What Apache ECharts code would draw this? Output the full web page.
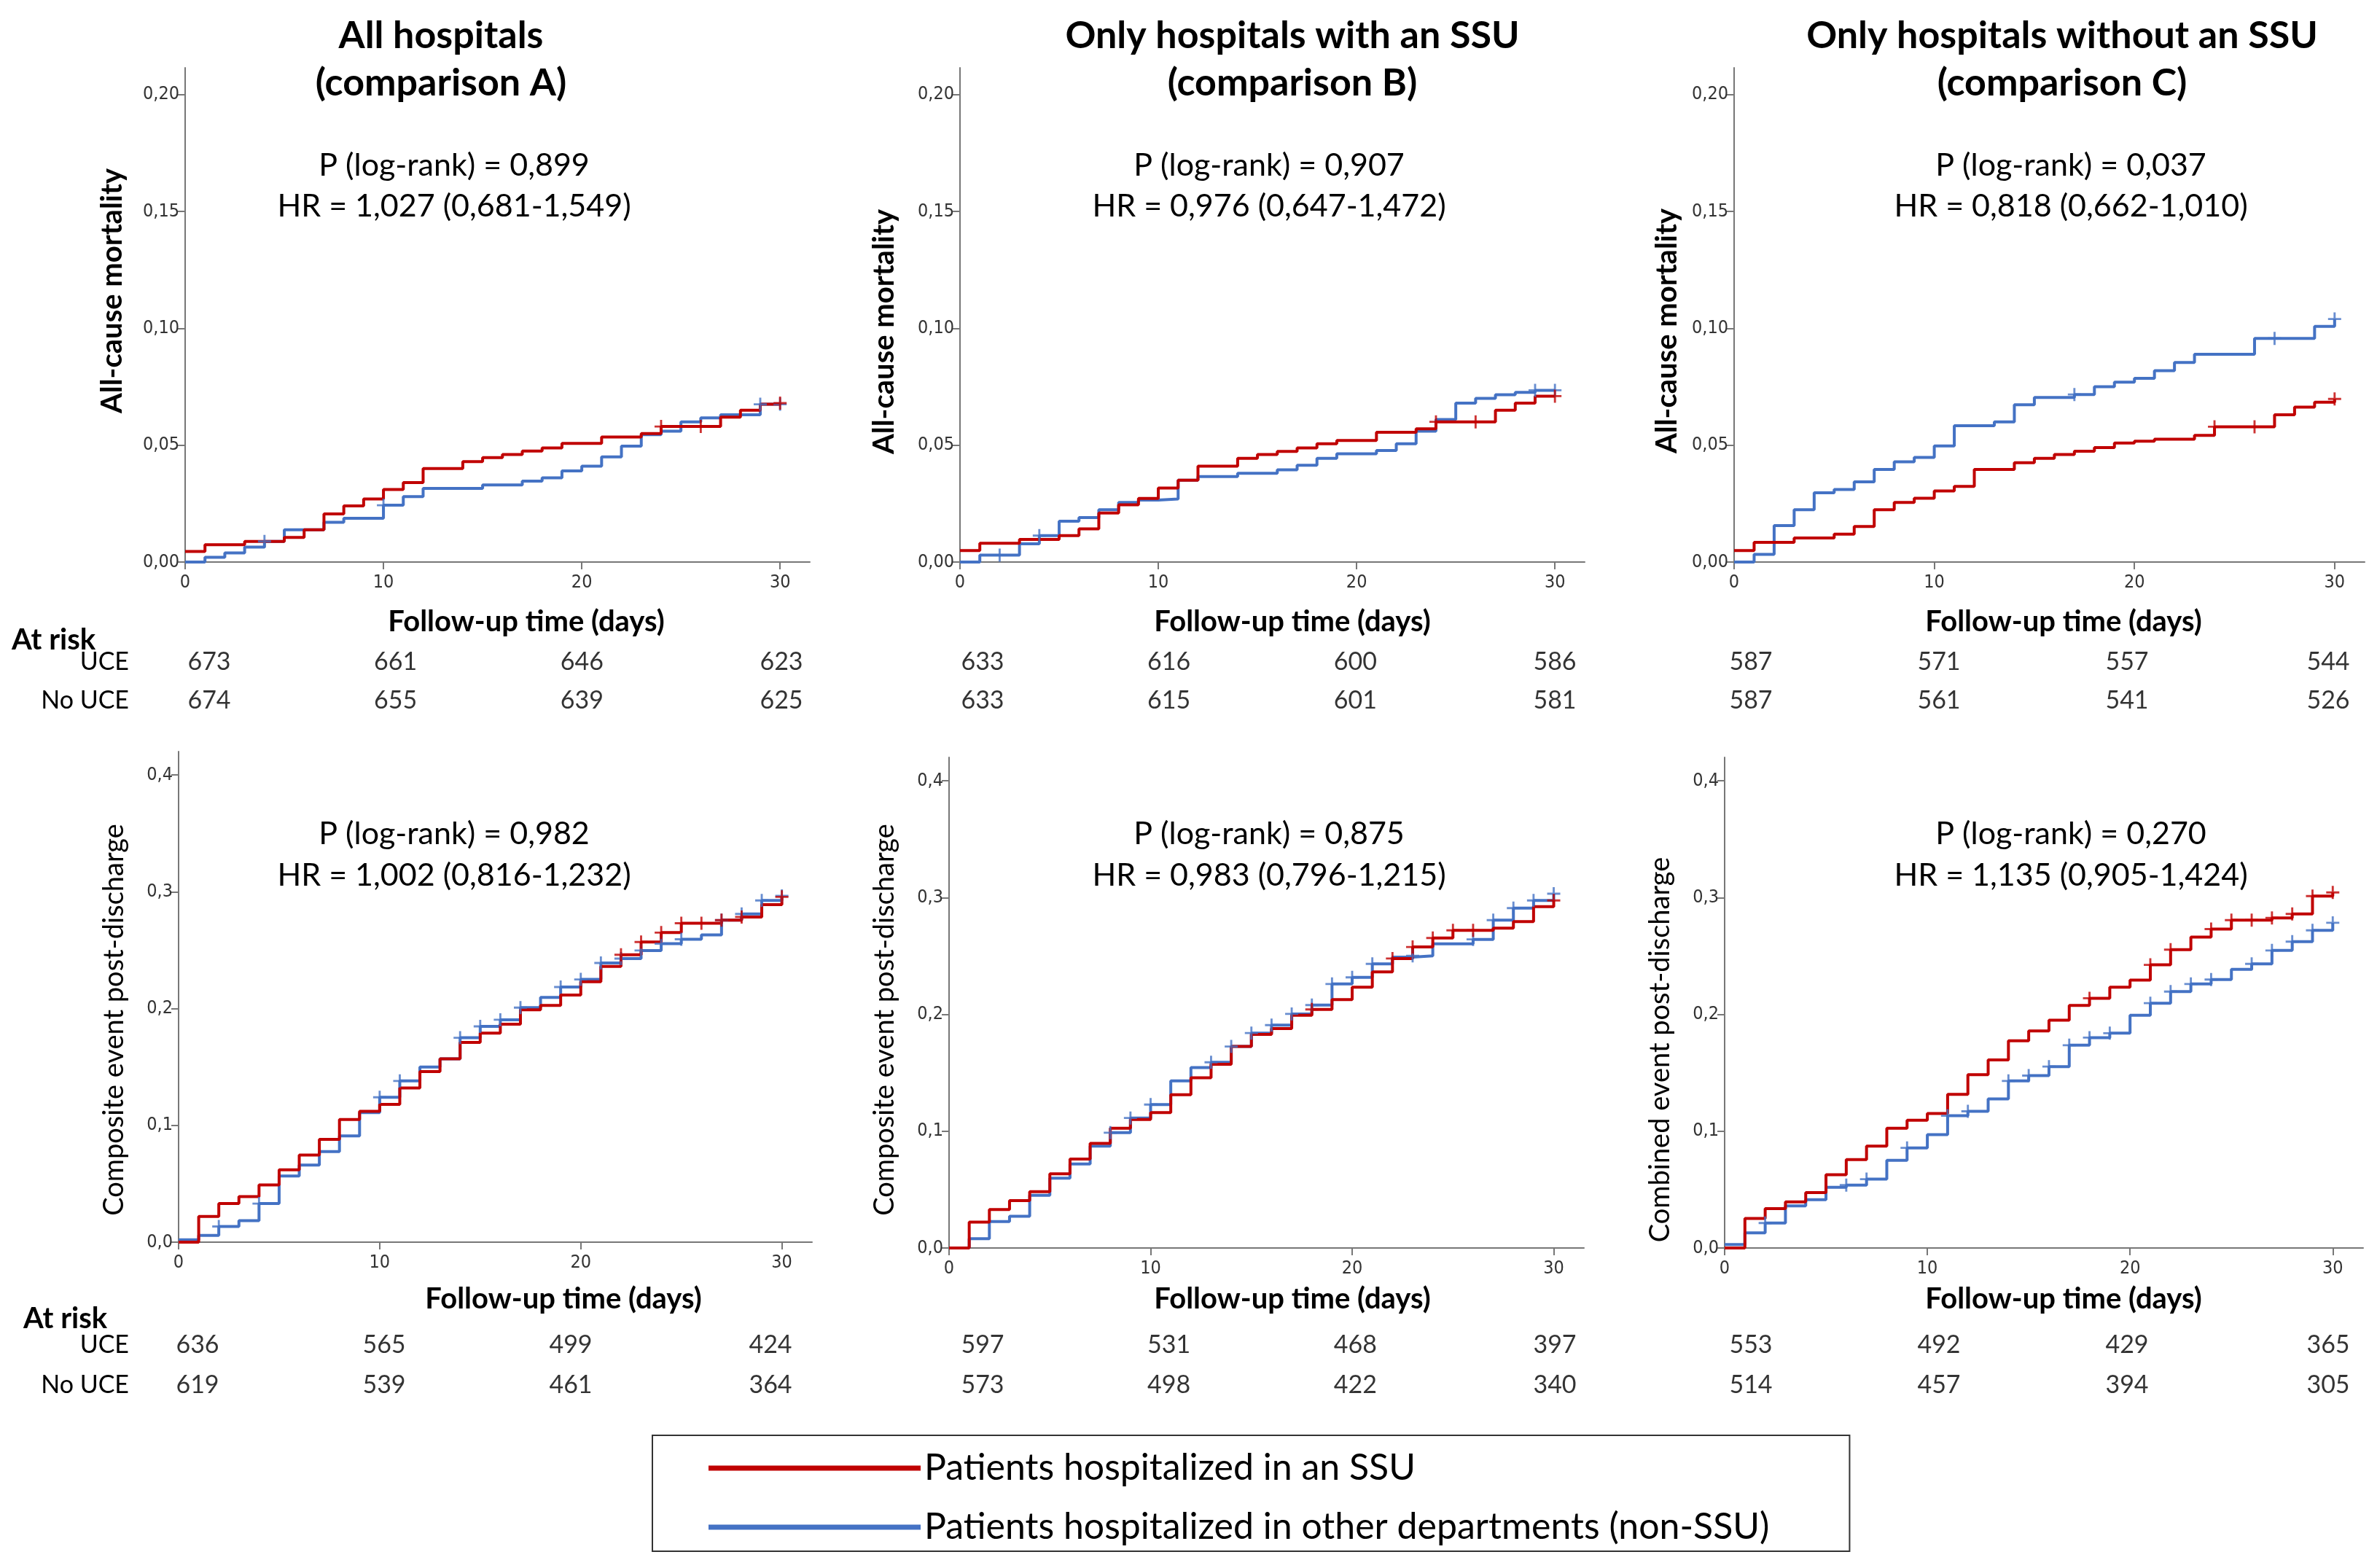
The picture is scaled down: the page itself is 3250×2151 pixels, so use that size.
<!DOCTYPE html>
<html><head><meta charset="utf-8">
<script src="https://cdn.jsdelivr.net/npm/echarts@6/dist/echarts.min.js"></script>
<style>html,body{margin:0;padding:0;background:#fff}#c{width:3250px;height:2151px}</style>
</head><body><div id="c"></div>
<script>
// ---------------- DATA ----------------
const dayIndex = [0,1,2,3,4,5,6,7,8,9,10,11,12,13,14,15,16,17,18,19,20,21,22,23,24,25,26,27,28,29,30];
const riskDays = [0,10,20,30];
const riskRows = ['UCE','No UCE'];
const yTicksMort = [0,0.05,0.10,0.15,0.20];
const yTicksComp = [0,0.1,0.2,0.3,0.4];
const xTicks = [0,10,20,30];
const nameSSU = 'Patients hospitalized in an SSU';
const nameNon = 'Patients hospitalized in other departments (non-SSU)';

// All-cause mortality (cumulative), value held on [day, day+1)
const mortA_SSU = [0.0045,0.0074,0.0074,0.0088,0.0088,0.0105,0.0138,0.0206,0.0240,0.0270,0.0310,0.0340,0.0400,0.0400,0.0430,0.0447,0.0460,0.0475,0.0488,0.0508,0.0508,0.0535,0.0535,0.0550,0.0580,0.0580,0.0580,0.0620,0.0650,0.0675,0.0680];
const mortA_Non = [0,0.0020,0.0039,0.0064,0.0088,0.0138,0.0138,0.0170,0.0187,0.0187,0.0243,0.0280,0.0315,0.0315,0.0315,0.0330,0.0330,0.0346,0.0360,0.0390,0.0410,0.0450,0.0496,0.0545,0.0560,0.0600,0.0617,0.0630,0.0630,0.0675,0.0675];
const mortB_SSU = [0.0049,0.0080,0.0080,0.0097,0.0097,0.0113,0.0142,0.0210,0.0245,0.0272,0.0317,0.0350,0.0410,0.0410,0.0444,0.0460,0.0473,0.0488,0.0506,0.0520,0.0520,0.0555,0.0555,0.0570,0.0600,0.0600,0.0600,0.0650,0.0680,0.0710,0.0710];
const mortB_Non = [0,0.0030,0.0030,0.0078,0.0113,0.0175,0.0190,0.0224,0.0255,0.0265,0.0270,0.0350,0.0366,0.0366,0.0380,0.0380,0.0395,0.0414,0.0444,0.0463,0.0463,0.0477,0.0506,0.0560,0.0610,0.0680,0.0700,0.0716,0.0726,0.0735,0.0735];
const mortC_SSU = [0.0049,0.0084,0.0084,0.0103,0.0103,0.0119,0.0152,0.0224,0.0255,0.0273,0.0304,0.0324,0.0396,0.0396,0.0425,0.0444,0.0460,0.0474,0.0490,0.0509,0.0517,0.0526,0.0526,0.0542,0.0579,0.0579,0.0579,0.0630,0.0663,0.0684,0.0698];
const mortC_Non = [0,0.0033,0.0156,0.0224,0.0296,0.0310,0.0343,0.0396,0.0429,0.0448,0.0497,0.0583,0.0583,0.0600,0.0673,0.0704,0.0704,0.0717,0.0750,0.0770,0.0786,0.0819,0.0854,0.0889,0.0889,0.0889,0.0957,0.0957,0.0957,0.1008,0.1040];

// Composite / combined event post-discharge
const compA_SSU = [0,0.022,0.033,0.039,0.049,0.062,0.0746,0.088,0.105,0.112,0.118,0.132,0.146,0.157,0.171,0.179,0.1866,0.199,0.2027,0.2115,0.223,0.236,0.246,0.257,0.265,0.273,0.273,0.2757,0.2784,0.289,0.2956];
const compA_Non = [0.002,0.0057,0.0134,0.0184,0.033,0.0566,0.066,0.0776,0.091,0.111,0.124,0.138,0.150,0.157,0.175,0.1847,0.1904,0.2008,0.2096,0.2184,0.2249,0.239,0.2428,0.2497,0.2555,0.2593,0.263,0.2757,0.281,0.2925,0.2964];
const compB_SSU = [0,0.0222,0.0329,0.0405,0.0482,0.0635,0.0761,0.0895,0.1025,0.110,0.1159,0.1312,0.1457,0.1572,0.1725,0.1828,0.1878,0.1992,0.2042,0.2126,0.2233,0.2363,0.2478,0.2577,0.2654,0.2719,0.2719,0.2738,0.2795,0.2922,0.2975];
const compB_Non = [0,0.008,0.0226,0.0272,0.0451,0.0597,0.0719,0.0872,0.0987,0.1113,0.1228,0.143,0.1545,0.159,0.1725,0.184,0.1908,0.2004,0.208,0.226,0.2317,0.2432,0.249,0.2501,0.2604,0.2604,0.2642,0.2807,0.291,0.2975,0.3033];
const compC_SSU = [0,0.0252,0.0337,0.0394,0.0474,0.0627,0.0757,0.0872,0.1025,0.1094,0.1151,0.1315,0.1484,0.161,0.1774,0.1858,0.195,0.2077,0.2138,0.2233,0.2294,0.2424,0.2554,0.2662,0.273,0.2807,0.2807,0.2826,0.286,0.3013,0.3044];
const compC_Non = [0.003,0.013,0.0214,0.036,0.0413,0.052,0.0539,0.0589,0.075,0.0857,0.0971,0.1132,0.117,0.1277,0.143,0.1476,0.1553,0.1736,0.1801,0.1839,0.1992,0.2096,0.2195,0.226,0.2298,0.2386,0.2432,0.2547,0.2623,0.2719,0.2784];

// Censoring marks (days)
const censMortA_SSU = [24,26,30];
const censMortA_Non = [4,10,29,30];
const censMortB_SSU = [24,26,30];
const censMortB_Non = [2,4,29,30];
const censMortC_SSU = [24,26,30];
const censMortC_Non = [17,27,30];
const censCompA_SSU = [22,23,24,25,26,27,28,30];
const censCompA_Non = [2,4,10,11,14,15,16,17,19,20,21,22,23,24,25,27,28,29,30];
const censCompB_SSU = [18,22,23,24,25,26,30];
const censCompB_Non = [8,9,10,13,14,15,16,17,18,19,20,21,23,26,27,28,29,30];
const censCompC_SSU = [18,21,22,24,25,26,27,28,29,30];
const censCompC_Non = [2,6,7,9,11,12,14,15,16,17,18,19,21,22,23,24,26,27,28,29,30];

// Numbers at risk at days 0,10,20,30
const riskMortA_UCE = [673,661,646,623], riskMortA_No = [674,655,639,625];
const riskMortB_UCE = [633,616,600,586], riskMortB_No = [633,615,601,581];
const riskMortC_UCE = [587,571,557,544], riskMortC_No = [587,561,541,526];
const riskCompA_UCE = [636,565,499,424], riskCompA_No = [619,539,461,364];
const riskCompB_UCE = [597,531,468,397], riskCompB_No = [573,498,422,340];
const riskCompC_UCE = [553,492,429,365], riskCompC_No = [514,457,394,305];

const titles = [['All hospitals','(comparison A)'],['Only hospitals with an SSU','(comparison B)'],['Only hospitals without an SSU','(comparison C)']];
const statsMort = [['P (log-rank) = 0,899','HR = 1,027 (0,681-1,549)'],['P (log-rank) = 0,907','HR = 0,976 (0,647-1,472)'],['P (log-rank) = 0,037','HR = 0,818 (0,662-1,010)']];
const statsComp = [['P (log-rank) = 0,982','HR = 1,002 (0,816-1,232)'],['P (log-rank) = 0,875','HR = 0,983 (0,796-1,215)'],['P (log-rank) = 0,270','HR = 1,135 (0,905-1,424)']];
const yNamesMort = ['All-cause mortality','All-cause mortality','All-cause mortality'];
const yNamesComp = ['Composite event post-discharge','Composite event post-discharge','Combined event post-discharge'];
const xName = 'Follow-up time (days)';

// ---------------- LAYOUT / STYLE ----------------
const RED = '#C00000', BLUE = '#4472C4';
const FONT = "Lato, 'Open Sans', sans-serif";
const TFONT = "'Liberation Sans Narrow', 'DejaVu Sans Condensed', sans-serif";
const AX = '#777';

const panels = [
  {grid:{left:254,top:93,width:857,height:678}, ymax:0.2115, ticks:yTicksMort, dec:2, ssu:mortA_SSU, non:mortA_Non, cs:censMortA_SSU, cn:censMortA_Non, ru:riskMortA_UCE, rn:riskMortA_No,
   tgrid:{left:287,top:882,width:785,height:106}, rowLabels:true, rowMargin:110},
  {grid:{left:1317,top:93,width:857,height:678}, ymax:0.2115, ticks:yTicksMort, dec:2, ssu:mortB_SSU, non:mortB_Non, cs:censMortB_SSU, cn:censMortB_Non, ru:riskMortB_UCE, rn:riskMortB_No,
   tgrid:{left:1348,top:882,width:785,height:106}, rowLabels:false},
  {grid:{left:2379,top:93,width:865,height:678}, ymax:0.2115, ticks:yTicksMort, dec:2, ssu:mortC_SSU, non:mortC_Non, cs:censMortC_SSU, cn:censMortC_Non, ru:riskMortC_UCE, rn:riskMortC_No,
   tgrid:{left:2402,top:882,width:792,height:106}, rowLabels:false},
  {grid:{left:245,top:1031,width:869,height:673}, ymax:0.42, ticks:yTicksComp, dec:1, ssu:compA_SSU, non:compA_Non, cs:censCompA_SSU, cn:censCompA_Non, ru:riskCompA_UCE, rn:riskCompA_No,
   tgrid:{left:271,top:1818,width:786,height:110}, rowLabels:true, rowMargin:94},
  {grid:{left:1302,top:1039,width:871,height:673}, ymax:0.42, ticks:yTicksComp, dec:1, ssu:compB_SSU, non:compB_Non, cs:censCompB_SSU, cn:censCompB_Non, ru:riskCompB_UCE, rn:riskCompB_No,
   tgrid:{left:1348,top:1818,width:785,height:110}, rowLabels:false},
  {grid:{left:2366,top:1039,width:876,height:673}, ymax:0.42, ticks:yTicksComp, dec:1, ssu:compC_SSU, non:compC_Non, cs:censCompC_SSU, cn:censCompC_Non, ru:riskCompC_UCE, rn:riskCompC_No,
   tgrid:{left:2402,top:1818,width:792,height:110}, rowLabels:false}
];
const colOffsets = [0,-6,-12,0];
const plusPath = 'path://M42,0h16v42h42v16h-42v42h-16v-42h-42v-16h42z';

const grids = [], xAxes = [], yAxes = [], series = [];
panels.forEach((p, i) => {
  grids.push(p.grid);
  xAxes.push({gridIndex:i, type:'value', min:0, max:31.5,
    axisLine:{show:true, onZero:false, lineStyle:{color:AX, width:2}},
    axisTick:{show:true, customValues:xTicks, length:10, lineStyle:{color:AX, width:2}},
    axisLabel:{customValues:xTicks, margin:16, fontSize:25, color:'#333', fontFamily:TFONT},
    splitLine:{show:false}});
  yAxes.push({gridIndex:i, type:'value', min:0, max:p.ymax,
    axisLine:{show:true, lineStyle:{color:AX, width:2}},
    axisTick:{show:true, customValues:p.ticks, length:10, lineStyle:{color:AX, width:2}},
    axisLabel:{customValues:p.ticks, margin:8, fontSize:25, color:'#333', fontFamily:TFONT,
      formatter: v => v.toFixed(p.dec).replace('.', ',')},
    splitLine:{show:false}});
  const mk = (arr) => dayIndex.map((d, k) => [d, arr[k]]);
  series.push({name:nameNon, type:'line', step:'end', xAxisIndex:i, yAxisIndex:i, data:mk(p.non),
    showSymbol:false, lineStyle:{color:BLUE, width:4}, itemStyle:{color:BLUE}, z:2});
  series.push({name:nameSSU, type:'line', step:'end', xAxisIndex:i, yAxisIndex:i, data:mk(p.ssu),
    showSymbol:false, lineStyle:{color:RED, width:4}, itemStyle:{color:RED}, z:3});
  series.push({name:'censored non-SSU', type:'scatter', xAxisIndex:i, yAxisIndex:i,
    data:p.cn.map(d => [d, p.non[d]]), symbol:plusPath, symbolSize:18, itemStyle:{color:BLUE}, z:4});
  series.push({name:'censored SSU', type:'scatter', xAxisIndex:i, yAxisIndex:i,
    data:p.cs.map(d => [d, p.ssu[d]]), symbol:plusPath, symbolSize:18, itemStyle:{color:RED}, z:5});
});
// at-risk tables
panels.forEach((p, i) => {
  const gi = 6 + i;
  grids.push(p.tgrid);
  xAxes.push({gridIndex:gi, type:'value', min:0, max:30, show:false});
  yAxes.push({gridIndex:gi, type:'category', data:riskRows, inverse:true,
    axisLine:{show:false}, axisTick:{show:false}, splitLine:{show:false},
    axisLabel:{show:p.rowLabels, margin:p.rowMargin || 0, fontSize:34, color:'#000', fontFamily:FONT}});
  const items = [];
  [p.ru, p.rn].forEach((row, r) => row.forEach((n, k) => items.push({
    value:[riskDays[k], r], n:n, label:{offset:[colOffsets[k], 0]}})));
  series.push({name:'at risk', type:'scatter', xAxisIndex:gi, yAxisIndex:gi, data:items,
    symbolSize:2, itemStyle:{color:'rgba(0,0,0,0)'}, silent:true, z:10,
    label:{show:true, position:'inside', fontSize:34, color:'#000', fontFamily:FONT, formatter: q => String(q.data.n)}});
});

// text graphics
const g = [];
const txt = (x, y, text, size, weight, rot) => g.push({type:'text', x:x, y:y, rotation:rot || 0,
  style:{text:text, fontSize:size, fontWeight:weight, fontFamily:FONT, fill:'#000', align:'center', verticalAlign:'middle'}});
const titleX = [605, 1773, 2829];
const statX = [623, 1741, 2841];
titles.forEach((t, i) => { txt(titleX[i], 49, t[0], 52, 'bold'); txt(titleX[i], 114, t[1], 52, 'bold'); });
statsMort.forEach((s, i) => { txt(statX[i], 227, s[0], 43, 'normal'); txt(statX[i], 283, s[1], 43, 'normal'); });
statsComp.forEach((s, i) => { txt(statX[i], 1144, s[0], 43, 'normal'); txt(statX[i], 1201, s[1], 43, 'normal'); });
[[154,399],[1213,455],[2287,454]].forEach((c, i) => txt(c[0], c[1], yNamesMort[i], 40, 'bold', Math.PI/2));
[[157,1399],[1214,1399],[2278,1440]].forEach((c, i) => txt(c[0], c[1], yNamesComp[i], 38, 'normal', Math.PI/2));
[722, 1773, 2831].forEach(x => txt(x, 853, xName, 40, 'bold'));
[773, 1773, 2831].forEach(x => txt(x, 1782, xName, 40, 'bold'));
g.push({type:'text', x:16, y:878, style:{text:'At risk', fontSize:40, fontWeight:'bold', fontFamily:FONT, fill:'#000', align:'left', verticalAlign:'middle'}});
g.push({type:'text', x:32, y:1809, style:{text:'At risk', fontSize:40, fontWeight:'bold', fontFamily:FONT, fill:'#000', align:'left', verticalAlign:'middle'}});

const chart = echarts.init(document.getElementById('c'), null, {renderer:'canvas'});
chart.setOption({
  animation:false,
  backgroundColor:'#fff',
  grid:grids, xAxis:xAxes, yAxis:yAxes, series:series,
  legend:{left:895, top:1969, orient:'vertical', padding:[18,110,6,77], itemGap:27,
    itemWidth:291, itemHeight:7, borderColor:'#333', borderWidth:2, selectedMode:false,
    textStyle:{fontSize:50, fontFamily:FONT, color:'#000', lineHeight:54},
    data:[{name:nameSSU, icon:'rect'}, {name:nameNon, icon:'rect'}]},
  graphic:g
});
</script></body></html>
